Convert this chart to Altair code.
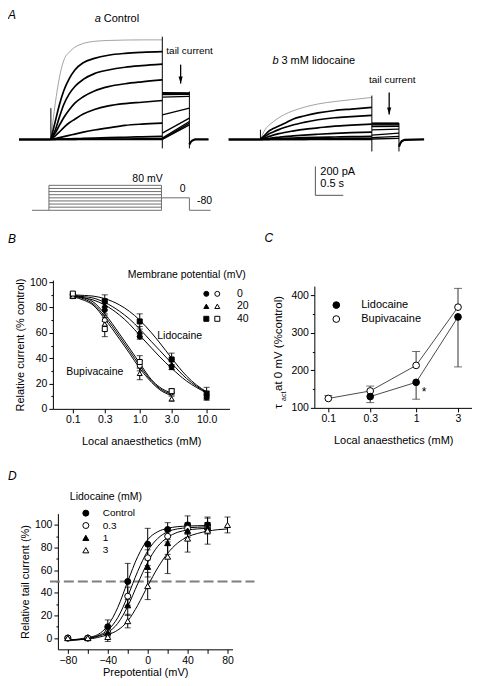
import altair as alt
import pandas as pd

FONT = "Liberation Sans"

# ================= Panel A: current traces (time s, current pA) =================
VOLTS = [80, 60, 40, 20, 0, -20, -40, -60, -80]
STEP_T = [0.571, 0.65, 0.72, 0.80, 0.90, 1.0, 1.15, 1.35, 1.6, 1.9, 2.2, 2.565]

ctrl_80 = [0, 250, 420, 545, 603, 637, 663, 678, 684, 687, 688, 688]
ctrl_60 = [0, 125, 235, 335, 420, 480, 530, 560, 582, 595, 602, 607]
ctrl_40 = [0, 65, 150, 240, 315, 366, 415, 455, 480, 499, 510, 520]
ctrl_20 = [0, 45, 95, 150, 205, 251, 295, 335, 365, 385, 398, 411]
ctrl_0 = [0, 25, 50, 82, 115, 140, 175, 207, 232, 248, 257, 269]
ctrl_m20 = [0, 6, 12, 19, 28, 37, 50, 65, 80, 97, 106, 113]
ctrl_m40 = [0, 1, 2, 3, 4, 5, 7, 9, 12, 15, 18, 21]
ctrl_m60 = [0, 0, 0, 1, 1, 1, 2, 2, 3, 3, 4, 5]
ctrl_m80 = [0, 0, 0, 0, 0, 0, 0, 0, 0, 0, 0, 0]
ctrl_tail_start = [324, 318, 310, 292, 170, 44, 9, 2, 0]
ctrl_tail_end = [322, 318, 312, 298, 216, 147, 124, 113, 101]
ctrl_post_t = [3.05, 3.07, 3.10, 3.15, 3.393]
ctrl_post_i = [-35, -20, -8, 0, 0]
ctrl_art_t = [0.571, 2.565, 3.05]
ctrl_art_lo = [0, -62, -62]
ctrl_art_hi = [216, 710, 331]
ctrl_arrow = [2.893, 517, 386]   # t, top, tip

lido_80 = [0, 65, 97, 122, 150, 172, 197, 222, 245, 262, 275, 290]
lido_60 = [0, 30, 58, 75, 93, 110, 140, 162, 183, 200, 210, 221]
lido_40 = [0, 20, 38, 52, 68, 82, 100, 118, 136, 150, 158, 166]
lido_20 = [0, 10, 20, 30, 40, 48, 58, 70, 80, 92, 99, 106]
lido_0 = [0, 4, 7, 11, 15, 19, 24, 30, 36, 42, 47, 51]
lido_m20 = [0, 2, 3, 4, 6, 7, 9, 12, 15, 17, 19, 21]
lido_m40 = [0, 1, 1, 2, 2, 3, 3, 4, 5, 6, 7, 8]
lido_m60 = [0, 0, 0, 0, 1, 1, 1, 1, 2, 2, 3, 3]
lido_m80 = [0, 0, 0, 0, 0, 0, 0, 0, 0, 0, 0, 0]
lido_tail_start = [113, 110, 106, 100, 88, 66, 30, 12, 3]
lido_tail_end = [113, 110, 106, 100, 90, 71, 44, 21, 8]
lido_post_t = [3.05, 3.07, 3.10, 3.15, 3.5]
lido_post_i = [-50, -30, -12, -3, 0]
lido_art_t = [0.571, 2.565, 3.05]
lido_art_lo = [0, -83, -83]
lido_art_hi = [67, 303, 113]
lido_arrow = [2.875, 324, 172]

T_ON, T_OFF, T_TAIL = 0.571, 2.565, 3.05

# voltage protocol (s, mV)
PROTO_V = [-80, -60, -40, -20, 0, 20, 40, 60, 80]
P_T = [0.232, 0.536, 2.55, 3.05, 3.43]   # start, on, off, tail end, end

# scale bar
SB_T0, SB_I0, SB_PA, SB_S = 1.554, -165.5, 200, 0.5

# ================= Panel B =================
b_conc = [0.1, 0.3, 1.0, 3.0, 10.0]
lido_0mv = [89, 78, 57, 33, 9]
lido_0mv_se = [1.5, 3, 2, 2, 2]
lido_20mv = [89, 82, 61, 35, 11]
lido_20mv_se = [1.5, 4, 4, 4, 3]
lido_40mv = [89, 85, 69, 39, 12]
lido_40mv_se = [1.5, 5, 6, 5, 5]
bup_conc = [0.1, 0.3, 1.0, 3.0]
bup_0mv = [90, 70, 34, 13]
bup_0mv_se = [1.5, 4, 4, 2]
bup_20mv = [89, 67, 28, 8]
bup_20mv_se = [1.5, 5, 5, 2]
bup_40mv = [91, 63, 37, 14]
bup_40mv_se = [1.5, 6, 5, 2]
fit_x_lido = [0.1, 0.15, 0.2, 0.3, 0.5, 0.7, 1.0, 1.5, 2.0, 3.0, 5.0, 7.0, 10.0]
fit_lido_0 = [89, 87.5, 86, 82, 74, 67, 58, 48, 41, 32, 22, 17, 12.5]
fit_lido_20 = [89.5, 88.5, 87.5, 84, 77, 71, 63, 53, 46, 36, 24, 18, 13]
fit_lido_40 = [90, 89.5, 89, 87, 82, 77, 70, 60, 52, 40, 26, 19, 13.5]
fit_x_bup = [0.1, 0.15, 0.2, 0.3, 0.5, 0.7, 1.0, 1.5, 2.0, 3.0]
fit_bup_0 = [89, 86.5, 83, 73, 57, 46, 34, 22, 16, 11.5]
fit_bup_20 = [88.5, 85.5, 82, 71, 55, 44, 32, 21, 15, 10.5]
fit_bup_40 = [89.5, 87.5, 84.5, 75, 59, 48, 36, 23, 17, 12.5]
POTS = ["0", "20", "40"]

# ================= Panel C =================
c_conc_bup = [0.1, 0.3, 1, 3]
c_bup = [125, 145, 213, 368]
c_bup_err = [8, 13, 37, 50]
c_conc_lido = [0.3, 1, 3]
c_lido = [130, 168, 342]
c_lido_err = [16, 45, 133]

# ================= Panel D =================
d_v = [-80, -60, -40, -20, 0, 20, 40, 60]
d_ctrl = [0, 0, 10, 50, 83, 96, 100, 100]
d_ctrl_se = [1, 1, 6, 16, 14, 6, 8, 6]
d_03 = [0, 0, 5, 37, 71, 90, 97, 97]
d_03_se = [1, 1, 4, 8, 7, 5, 5, 5]
d_1 = [0, 0, 5, 29, 63, 84, 95, 98]
d_1_se = [1, 1, 3, 9, 9, 10, 6, 4]
d_v3 = [-80, -60, -40, -20, 0, 20, 40, 60, 80]
d_3 = [0, 0, 1, 15, 46, 72, 88, 95, 100]
d_3_se = [1, 1, 4, 6, 12, 15, 12, 12, 7]
d_fit_v = [-80, -70, -60, -50, -40, -30, -20, -10, 0, 10, 20, 30, 40, 50, 60]
fit_ctrl = [-2, -1, 0.5, 3, 11, 27, 50, 72, 87, 94, 97, 98.5, 99, 99.3, 99.5]
fit_03 = [-2, -1.5, -0.5, 2, 7, 18, 37, 59, 77, 88, 94, 96.5, 97.5, 98, 98.3]
fit_1 = [-2, -1.5, -0.5, 1.5, 5, 13, 28, 48, 67, 81, 89, 93.5, 95.5, 96.5, 97]
d_fit_v3 = [-80, -70, -60, -50, -40, -30, -20, -10, 0, 10, 20, 30, 40, 50, 60, 70, 80]
fit_3 = [-2, -1.5, -1, 0.5, 3, 7, 15, 29, 46, 62, 75, 84, 89.5, 92.5, 94.5, 95.8, 96.5]
D_SERIES = ["Control", "0.3", "1", "3"]
D_HALF = 50
D_HALF_SPAN = [-98, 107]


# ----------------------------------------------------------------------------
def ptext(text, x, y, size=10.5, align="left", baseline="middle", style="normal", angle=0, color="black"):
    return alt.Chart(pd.DataFrame({"s": [text]})).mark_text(
        align=align, baseline=baseline, fontSize=size, fontStyle=style, font=FONT,
        color=color, angle=angle
    ).encode(x=alt.value(x), y=alt.value(y), text="s:N")


# ----------------------------- Row 1: traces ---------------------------------
def trace_layer(steps, tail_s, tail_e, post_t, post_i, art_t, art_lo, art_hi, arrow, tmax, xr):
    xsc = alt.Scale(domain=[0, tmax], range=xr, nice=False, zero=False)
    X = alt.X("t:Q", scale=xsc, axis=None)
    ysc = alt.Scale(domain=[-82.8, 744.8], nice=False, zero=False)
    Y = alt.Y("i:Q", scale=ysc, axis=None)
    step_rows = [{"v": v, "t": t, "i": i} for v, cur in zip(VOLTS, steps) for t, i in zip(STEP_T, cur)]
    tail_rows = []
    for v, a, b in zip(VOLTS, tail_s, tail_e):
        tail_rows += [{"v": v, "t": T_OFF, "i": a}, {"v": v, "t": T_TAIL, "i": b}]
    pre = pd.DataFrame({"t": [0, T_ON], "i": [0, 0]})
    post = pd.DataFrame({"t": post_t, "i": post_i})
    art = pd.DataFrame({"t": art_t, "lo": art_lo, "hi": art_hi})
    arr = pd.DataFrame({"t": [arrow[0]], "top": [arrow[1]], "i": [arrow[2]]})

    is_top = alt.datum.v == 80
    steps_l = alt.Chart(pd.DataFrame(step_rows)).mark_line(interpolate="monotone").encode(
        x=X, y=Y, detail="v:N",
        color=alt.condition(is_top, alt.value("#8c8c8c"), alt.value("black")),
        strokeWidth=alt.condition(is_top, alt.value(0.8), alt.value(1.7)))
    tails_l = alt.Chart(pd.DataFrame(tail_rows)).mark_line(color="black", strokeWidth=1.3).encode(
        x=X, y=Y, detail="v:N")
    pre_l = alt.Chart(pre).mark_line(color="black", strokeWidth=2.6).encode(x=X, y=Y)
    post_l = alt.Chart(post).mark_line(color="black", strokeWidth=2.2).encode(x=X, y=Y)
    art_l = alt.Chart(art).mark_rule(color="black", strokeWidth=1).encode(
        x=X, y=alt.Y("lo:Q", scale=ysc, axis=None), y2="hi:Q")
    arr_rule = alt.Chart(arr).mark_rule(color="black", strokeWidth=1.3).encode(
        x=X, y=alt.Y("top:Q", scale=ysc, axis=None), y2="i:Q")
    arr_head = alt.Chart(arr).mark_point(
        shape="M0,0 L-0.6,-2 L0.6,-2 Z", size=49, filled=True, color="black", opacity=1).encode(x=X, y=Y)
    return alt.layer(pre_l, steps_l, tails_l, post_l, art_l, arr_rule, arr_head)


ctrl_layer = trace_layer(
    [ctrl_80, ctrl_60, ctrl_40, ctrl_20, ctrl_0, ctrl_m20, ctrl_m40, ctrl_m60, ctrl_m80],
    ctrl_tail_start, ctrl_tail_end, ctrl_post_t, ctrl_post_i,
    ctrl_art_t, ctrl_art_lo, ctrl_art_hi, ctrl_arrow, 3.393, [0, 190])
lido_layer = trace_layer(
    [lido_80, lido_60, lido_40, lido_20, lido_0, lido_m20, lido_m40, lido_m60, lido_m80],
    lido_tail_start, lido_tail_end, lido_post_t, lido_post_i,
    lido_art_t, lido_art_lo, lido_art_hi, lido_arrow, 3.5, [210, 406])

row1 = alt.layer(
    ctrl_layer, lido_layer,
    ptext("A", -11, -22, size=12, baseline="top", style="italic"),
    ptext("a", 76, -13, size=11, style="italic"),
    ptext("Control", 85, -13, size=11),
    ptext("tail current", 171, 19, size=10, align="center"),
    ptext("b", 254, 29, size=11, style="italic"),
    ptext("3 mM lidocaine", 263, 29, size=11),
    ptext("tail current", 374, 48, size=10, align="center"),
).resolve_scale(x="independent", y="independent").properties(width=406, height=120)

# ----------------------------- Row 2: protocol + scale bar -------------------
PX = alt.Scale(domain=[0, 3.393], range=[0, 190], nice=False, zero=False)
PY = alt.Scale(domain=[-400, 169.6], nice=False, zero=False)
h_rows = [{"a": P_T[1], "b": P_T[2], "v": v} for v in PROTO_V]
h_rows += [{"a": P_T[0], "b": P_T[1], "v": -80}, {"a": P_T[2], "b": P_T[3], "v": 0},
           {"a": P_T[3], "b": P_T[4], "v": -80}]
v_rows = [{"a": P_T[1], "v": -80, "hi": 80}, {"a": P_T[2], "v": -80, "hi": 80},
          {"a": P_T[3], "v": -80, "hi": 0}]
PCOL = "#6e6e6e"
proto_h = alt.Chart(pd.DataFrame(h_rows)).mark_rule(color=PCOL, strokeWidth=1).encode(
    x=alt.X("a:Q", scale=PX, axis=None), x2="b:Q", y=alt.Y("v:Q", scale=PY, axis=None))
proto_v = alt.Chart(pd.DataFrame(v_rows)).mark_rule(color=PCOL, strokeWidth=1).encode(
    x=alt.X("a:Q", scale=PX, axis=None), y=alt.Y("v:Q", scale=PY, axis=None), y2="hi:Q")
plab = pd.DataFrame({"a": [2.571, 2.93, 3.32], "v": [118, 54, -22], "s": ["80 mV", "0", "-80"]})
proto_txt_r = alt.Chart(plab.iloc[[0]]).mark_text(align="right", font=FONT, fontSize=10.5, color="black").encode(
    x=alt.X("a:Q", scale=PX, axis=None), y=alt.Y("v:Q", scale=PY, axis=None), text="s:N")
proto_txt_c = alt.Chart(plab.iloc[[1, 2]]).mark_text(align="center", font=FONT, fontSize=10.5, color="black").encode(
    x=alt.X("a:Q", scale=PX, axis=None), y=alt.Y("v:Q", scale=PY, axis=None), text="s:N")
proto_layer = alt.layer(proto_h, proto_v, proto_txt_r, proto_txt_c)

BX = alt.Scale(domain=[0, 3.5], range=[210, 406], nice=False, zero=False)
BY = alt.Scale(domain=[-613.8, 0], nice=False, zero=False)
sb = pd.DataFrame({"t": [SB_T0], "t2": [SB_T0 + SB_S], "i": [SB_I0], "i2": [SB_I0 + SB_PA]})
sb_v = alt.Chart(sb).mark_rule(color="#555555", strokeWidth=1).encode(
    x=alt.X("t:Q", scale=BX, axis=None), y=alt.Y("i:Q", scale=BY, axis=None), y2="i2:Q")
sb_h = alt.Chart(sb).mark_rule(color="#555555", strokeWidth=1).encode(
    x=alt.X("t:Q", scale=BX, axis=None), x2="t2:Q", y=alt.Y("i:Q", scale=BY, axis=None))
bar_layer = alt.layer(sb_v, sb_h)

row2 = alt.layer(proto_layer, bar_layer,
                 ptext("200 pA", 302, 1, size=11), ptext("0.5 s", 302, 13, size=11)
                 ).resolve_scale(x="independent", y="independent").properties(width=406, height=89)

# ----------------------------- Row 3: panels B and C -------------------------
def minor_size(m):
    return {"condition": {"test": f"datum.value % {m} === 0", "value": 4}, "value": 2}


BXS = alt.Scale(type="log", domain=[0.0503, 22.0], range=[34, 211], nice=False)
BYS = alt.Scale(domain=[0, 101.6], range=[129, 0], nice=False, zero=False)
bx_axis = alt.Axis(values=b_conc, format=".1f", title="Local anaesthetics (mM)", titlePadding=10, tickSize=4,
                   orient="bottom")
by_axis = alt.Axis(values=list(range(0, 101, 10)), title="Relative current (% control)",
                   labelExpr="datum.value % 20 === 0 ? datum.label : ''", tickSize=minor_size(20),
                   labelOverlap=False, orient="left", offset=-34)
BXE = alt.X("x:Q", scale=BXS, axis=bx_axis)
BYE = alt.Y("y:Q", scale=BYS, axis=by_axis)

b_lido_rows, b_bup_rows = [], []
for p, vals, se in zip(POTS, [lido_0mv, lido_20mv, lido_40mv], [lido_0mv_se, lido_20mv_se, lido_40mv_se]):
    b_lido_rows += [{"x": c, "y": v, "lo": v - s, "hi": v + s, "pot": p} for c, v, s in zip(b_conc, vals, se)]
for p, vals, se in zip(POTS, [bup_0mv, bup_20mv, bup_40mv], [bup_0mv_se, bup_20mv_se, bup_40mv_se]):
    b_bup_rows += [{"x": c, "y": v, "lo": v - s, "hi": v + s, "pot": p} for c, v, s in zip(bup_conc, vals, se)]
b_lido = pd.DataFrame(b_lido_rows)
b_bup = pd.DataFrame(b_bup_rows)
b_all = pd.concat([b_lido, b_bup], ignore_index=True)
b_fit_rows = []
for name, xs, ys in [("l0", fit_x_lido, fit_lido_0), ("l20", fit_x_lido, fit_lido_20), ("l40", fit_x_lido, fit_lido_40),
                     ("b0", fit_x_bup, fit_bup_0), ("b20", fit_x_bup, fit_bup_20), ("b40", fit_x_bup, fit_bup_40)]:
    b_fit_rows += [{"x": a, "y": b, "c": name} for a, b in zip(xs, ys)]

b_fit = alt.Chart(pd.DataFrame(b_fit_rows)).mark_line(color="black", strokeWidth=1, interpolate="monotone").encode(
    x=BXE, y=BYE, detail="c:N")
b_err = alt.Chart(b_all).mark_rule(color="black", strokeWidth=1).encode(
    x=BXE, y=alt.Y("lo:Q", scale=BYS, axis=by_axis), y2="hi:Q")
b_cap_lo = alt.Chart(b_all).mark_tick(orient="horizontal", size=6, thickness=1, color="black").encode(
    x=BXE, y=alt.Y("lo:Q", scale=BYS, axis=by_axis))
b_cap_hi = alt.Chart(b_all).mark_tick(orient="horizontal", size=6, thickness=1, color="black").encode(
    x=BXE, y=alt.Y("hi:Q", scale=BYS, axis=by_axis))
SHAPES_B = alt.Scale(domain=POTS, range=["circle", "triangle-up", "square"])
leg_common = dict(orient="none", labelFont=FONT, titleFont=FONT, labelFontSize=10.5, titleFontSize=10.5,
                  titleFontWeight="normal", labelColor="black", titleColor="black", symbolSize=25,
                  symbolStrokeWidth=1, padding=0, rowPadding=1.5, symbolStrokeColor="black")
LEG_B1 = alt.Legend(title="Membrane potential (mV)", legendX=109, legendY=-10, symbolOffset=73.5, labelOpacity=0,
                    titlePadding=8, **leg_common)
LEG_B2 = alt.Legend(title=None, legendX=193.5, legendY=8.5, labelOffset=14.5, **leg_common)
b_pts_l = alt.Chart(b_lido).mark_point(filled=True, strokeWidth=1, size=25, opacity=1).encode(
    x=BXE, y=BYE,
    fill=alt.Fill("pot:N", scale=alt.Scale(domain=POTS, range=["black"] * 3), legend=LEG_B1),
    stroke=alt.Stroke("pot:N", scale=alt.Scale(domain=POTS, range=["black"] * 3), legend=LEG_B1),
    shape=alt.Shape("pot:N", scale=SHAPES_B, legend=LEG_B1))
b_pts_b = alt.Chart(b_bup).mark_point(filled=True, strokeWidth=1, size=25, opacity=1).encode(
    x=BXE, y=BYE,
    fill=alt.Fill("pot:N", scale=alt.Scale(domain=POTS, range=["white"] * 3), legend=LEG_B2),
    stroke=alt.Stroke("pot:N", scale=alt.Scale(domain=POTS, range=["black"] * 3), legend=LEG_B2),
    shape=alt.Shape("pot:N", scale=SHAPES_B, legend=LEG_B2))
b_txt = alt.Chart(pd.DataFrame({"x": [3.95, 0.213], "y": [57.5, 29.1], "s": ["Lidocaine", "Bupivacaine"]})).mark_text(
    font=FONT, fontSize=10.5, color="black").encode(x=BXE, y=BYE, text="s:N")
b_layer = alt.layer(b_fit, b_err, b_cap_lo, b_cap_hi, b_pts_l, b_pts_b, b_txt).resolve_scale(
    shape="independent", fill="independent", stroke="independent").resolve_legend(
    shape="independent", fill="independent", stroke="independent")

CXS = alt.Scale(type="log", domain=[0.0693, 4.33], range=[296, 454], nice=False)
CYS = alt.Scale(domain=[100, 424], range=[128, 6], nice=False, zero=False)
cx_axis = alt.Axis(values=c_conc_bup, format="~g", title="Local anaesthetics (mM)", titlePadding=10, tickSize=4,
                   orient="bottom", offset=-1)
cy_axis = alt.Axis(values=list(range(100, 401, 50)), title=None,
                   labelExpr="datum.value % 100 === 0 ? datum.label : ''", tickSize=minor_size(100),
                   labelOverlap=False, orient="left", offset=-296)
CXE = alt.X("x:Q", scale=CXS, axis=cx_axis)
CYE = alt.Y("y:Q", scale=CYS, axis=cy_axis)
c_rows = [{"x": c, "y": v, "lo": v, "hi": v + e, "cap": v + e, "drug": "Bupivacaine"}
          for c, v, e in zip(c_conc_bup, c_bup, c_bup_err)]
c_rows += [{"x": c, "y": v, "lo": v - e, "hi": v, "cap": v - e, "drug": "Lidocaine"}
           for c, v, e in zip(c_conc_lido, c_lido, c_lido_err)]
c_df = pd.DataFrame(c_rows)
c_line = alt.Chart(c_df).mark_line(color="#4a4a4a", strokeWidth=1).encode(x=CXE, y=CYE, detail="drug:N")
c_err = alt.Chart(c_df).mark_rule(color="#333333", strokeWidth=1).encode(
    x=CXE, y=alt.Y("lo:Q", scale=CYS, axis=cy_axis), y2="hi:Q")
c_cap = alt.Chart(c_df).mark_tick(orient="horizontal", size=8, thickness=1, color="#333333").encode(
    x=CXE, y=alt.Y("cap:Q", scale=CYS, axis=cy_axis))
c_pts = alt.Chart(c_df).mark_point(filled=True, strokeWidth=1, size=45, opacity=1, shape="circle").encode(
    x=CXE, y=CYE, stroke=alt.value("black"),
    fill=alt.Fill("drug:N", scale=alt.Scale(domain=["Lidocaine", "Bupivacaine"], range=["black", "white"]),
                  legend=alt.Legend(title=None, orient="none", legendX=312.5, legendY=19.5, labelOffset=19.5,
                                    rowPadding=2, symbolSize=45, labelFontSize=11, labelFont=FONT,
                                    labelColor="black", symbolStrokeColor="black", symbolStrokeWidth=1,
                                    symbolType="circle", padding=0)))
c_star = alt.Chart(pd.DataFrame({"x": [1.233], "y": [142.5], "s": ["*"]})).mark_text(
    font=FONT, fontSize=12, color="black").encode(x=CXE, y=CYE, text="s:N")
c_layer = alt.layer(c_line, c_err, c_cap, c_pts, c_star)

row3 = alt.layer(
    b_layer, c_layer,
    ptext("B", -11, -41, size=12, style="italic"),
    ptext("C", 246, -42, size=12, style="italic"),
    ptext("\u03c4", 261, 129, size=11.5, angle=270),
    ptext("act", 265.5, 121, size=7, angle=270),
    ptext("at 0 mV (%control)", 261, 111, size=11.5, angle=270),
).resolve_scale(x="independent", y="independent", shape="independent", fill="independent",
                stroke="independent").resolve_legend(
    shape="independent", fill="independent", stroke="independent").properties(width=454, height=129)

# ----------------------------- Row 4: panel D --------------------------------
DXS = alt.Scale(domain=[-90, 85], range=[39, 214], nice=False, zero=False)
DYS = alt.Scale(domain=[-10, 110], nice=False, zero=False)
dx_axis = alt.Axis(values=list(range(-80, 81, 20)), title="Prepotential (mV)", titlePadding=1,
                   labelExpr="datum.value % 40 === 0 ? datum.label : ''", tickSize=4, labelOverlap=False)
dy_axis = alt.Axis(values=list(range(0, 101, 10)), title="Relative tail current (%)",
                   labelExpr="datum.value % 20 === 0 ? datum.label : ''", tickSize=minor_size(20),
                   labelOverlap=False, orient="left", offset=-39)
DXE = alt.X("x:Q", scale=DXS, axis=dx_axis)
DYE = alt.Y("y:Q", scale=DYS, axis=dy_axis)
d_rows = []
for name, xs, ys, ses in [("Control", d_v, d_ctrl, d_ctrl_se), ("0.3", d_v, d_03, d_03_se),
                          ("1", d_v, d_1, d_1_se), ("3", d_v3, d_3, d_3_se)]:
    d_rows += [{"x": a, "y": b, "lo": b - s, "hi": b + s, "ser": name} for a, b, s in zip(xs, ys, ses)]
d_df = pd.DataFrame(d_rows)
d_fit_rows = []
for name, xs, ys in [("Control", d_fit_v, fit_ctrl), ("0.3", d_fit_v, fit_03), ("1", d_fit_v, fit_1),
                     ("3", d_fit_v3, fit_3)]:
    d_fit_rows += [{"x": a, "y": b, "ser": name} for a, b in zip(xs, ys)]
d_half = alt.Chart(pd.DataFrame({"x": [D_HALF_SPAN[0]], "x2": [D_HALF_SPAN[1]], "y": [D_HALF]})).mark_rule(
    color="#7f7f7f", strokeWidth=1.8, strokeDash=[10, 4]).encode(x=DXE, x2="x2:Q", y=DYE)
d_fit = alt.Chart(pd.DataFrame(d_fit_rows)).mark_line(color="black", strokeWidth=1, interpolate="monotone").encode(
    x=DXE, y=DYE, detail="ser:N")
d_err = alt.Chart(d_df).mark_rule(color="black", strokeWidth=1).encode(
    x=DXE, y=alt.Y("lo:Q", scale=DYS, axis=dy_axis), y2="hi:Q")
d_cap_lo = alt.Chart(d_df).mark_tick(orient="horizontal", size=6, thickness=1, color="black").encode(
    x=DXE, y=alt.Y("lo:Q", scale=DYS, axis=dy_axis))
d_cap_hi = alt.Chart(d_df).mark_tick(orient="horizontal", size=6, thickness=1, color="black").encode(
    x=DXE, y=alt.Y("hi:Q", scale=DYS, axis=dy_axis))
LEG_D = alt.Legend(title="Lidocaine (mM)", orient="none", legendX=51, legendY=-22, symbolOffset=11,
                   labelOffset=12, titlePadding=6, rowPadding=2.4, labelFontSize=10, titleFontSize=10.5,
                   titleFontWeight="normal", symbolSize=36, symbolStrokeWidth=1, padding=0,
                   labelFont=FONT, titleFont=FONT, labelColor="black", titleColor="black",
                   symbolStrokeColor="black")
d_pts = alt.Chart(d_df).mark_point(filled=True, strokeWidth=1, size=36, opacity=1).encode(
    x=DXE, y=DYE,
    stroke=alt.Stroke("ser:N", scale=alt.Scale(domain=D_SERIES, range=["black"] * 4), legend=LEG_D),
    shape=alt.Shape("ser:N", scale=alt.Scale(domain=D_SERIES, range=["circle", "circle", "triangle-up", "triangle-up"]),
                    legend=LEG_D),
    fill=alt.Fill("ser:N", scale=alt.Scale(domain=D_SERIES, range=["black", "white", "black", "white"]),
                  legend=LEG_D))
row4 = alt.layer(d_half, d_fit, d_err, d_cap_lo, d_cap_hi, d_pts,
                 ptext("D", -11, -38, size=12, style="italic")).properties(width=214, height=136)

spacer = alt.Chart(pd.DataFrame({"z": [0]})).mark_point(opacity=0).encode(
    x=alt.value(0), y=alt.value(0)).properties(width=10, height=65)

# ----------------------------- layout ----------------------------------------
chart = alt.vconcat(row1, row2, row3, spacer, row4, spacing=20, bounds="flush").resolve_scale(
    shape="independent", fill="independent", stroke="independent").resolve_legend(
    shape="independent", fill="independent", stroke="independent").properties(padding=0)
chart = chart.configure(font=FONT).configure_view(stroke=None).configure_axis(
    labelFont=FONT, titleFont=FONT, labelFontSize=10.5, titleFontSize=11, titleFontWeight="normal",
    domainColor="black", tickColor="black", labelColor="black", titleColor="black", grid=False,
    domainWidth=1, tickWidth=1, labelPadding=2
)

chart.save("out.html", embed_options={"renderer": "svg", "actions": False})
